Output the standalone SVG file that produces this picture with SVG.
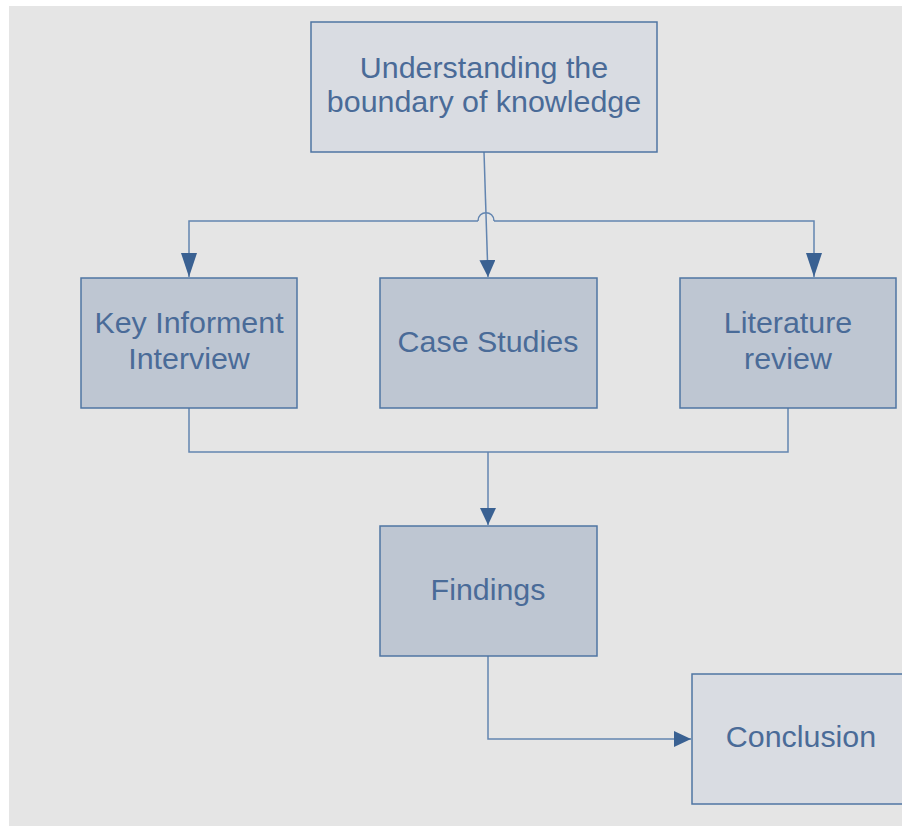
<svg xmlns="http://www.w3.org/2000/svg" width="902" height="827" viewBox="0 0 902 827">
<style>
.bg{fill:#e5e5e5}
.box{stroke:#4f75a3;stroke-width:1.5}
.light{fill:#d9dce2}
.mid{fill:#bec6d2}
.t{font-family:"Liberation Sans",Arial,sans-serif;font-size:30.4px;fill:#4a6b98;text-anchor:middle}
.c{fill:none;stroke:#6385b0;stroke-width:1.5}
</style>
<defs>
<marker id="ah" viewBox="0 0 17 16" markerWidth="17" markerHeight="16" refX="17" refY="8" orient="auto" markerUnits="userSpaceOnUse">
<path d="M0,0 L17,8 L0,16 Z" fill="#3a6192"/>
</marker>
<marker id="ahl" viewBox="0 0 24 16" markerWidth="24" markerHeight="16" refX="24" refY="8" orient="auto" markerUnits="userSpaceOnUse">
<path d="M0,0 L24,8 L0,16 Z" fill="#3a6192"/>
</marker>
</defs>
<rect x="0" y="0" width="902" height="827" fill="#ffffff"/>
<rect class="bg" x="9" y="6" width="893" height="820"/>
<g id="connectors">
<path class="c" d="M484,152 L488,277" marker-end="url(#ah)"/>
<path class="c" d="M478,221 C478,210 494,210 494,221"/>
<path class="c" d="M478,221 L189,221 L189,277" marker-end="url(#ahl)"/>
<path class="c" d="M494,221 L814,221 L814,277" marker-end="url(#ahl)"/>
<path class="c" d="M189,408 L189,452 L788,452 L788,408"/>
<path class="c" d="M488,452 L488,525" marker-end="url(#ah)"/>
<path class="c" d="M488,656 L488,739 L691,739" marker-end="url(#ah)"/>
</g>
<g id="node-understanding">
<rect class="box light" x="311" y="22" width="346" height="130"/>
<text class="t" x="484" y="78">Understanding the</text>
<text class="t" x="484" y="112">boundary of knowledge</text>
</g>
<g id="node-key">
<rect class="box mid" x="81" y="278" width="216" height="130"/>
<text class="t" x="189" y="333">Key Informent</text>
<text class="t" x="189" y="369">Interview</text>
</g>
<g id="node-case">
<rect class="box mid" x="380" y="278" width="217" height="130"/>
<text class="t" x="488" y="352">Case Studies</text>
</g>
<g id="node-literature">
<rect class="box mid" x="680" y="278" width="216" height="130"/>
<text class="t" x="788" y="333">Literature</text>
<text class="t" x="788" y="369">review</text>
</g>
<g id="node-findings">
<rect class="box mid" x="380" y="526" width="217" height="130"/>
<text class="t" x="488" y="600">Findings</text>
</g>
<g id="node-conclusion">
<rect class="box light" x="692" y="674" width="230" height="130"/>
<text class="t" x="801" y="747">Conclusion</text>
</g>
</svg>
